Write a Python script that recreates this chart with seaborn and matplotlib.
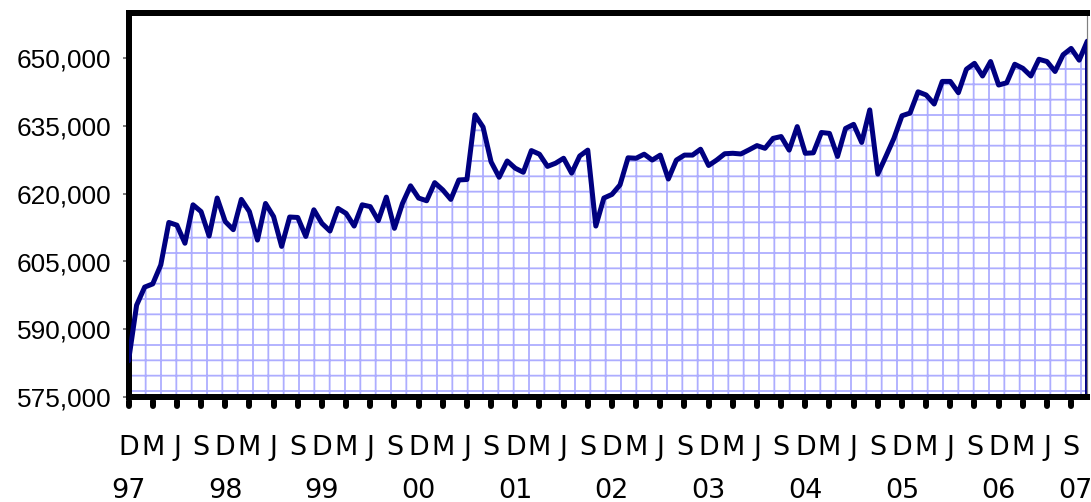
import numpy as np
import pandas as pd
import seaborn as sns
import matplotlib.pyplot as plt
import matplotlib.ticker as mticker

# monthly series, Dec 1997 .. Nov 2007
values = [583000, 595300, 599300, 600000, 604200, 613600, 613000, 609000, 617500, 616000,
          610600, 619000, 613800, 612000, 618700, 616000, 609700, 617800, 614900, 608300,
          614800, 614700, 610500, 616400, 613400, 611700, 616700, 615600, 612800, 617500,
          617100, 614000, 619200, 612300, 617800, 621700, 619000, 618400, 622400, 620800,
          618700, 623000, 623100, 637400, 634700, 627000, 623600, 627200, 625600, 624700,
          629500, 628700, 626000, 626700, 627800, 624500, 628300, 629600, 612800, 619000,
          619800, 621900, 627900, 627800, 628700, 627400, 628500, 623200, 627400, 628500,
          628500, 629800, 626200, 627400, 628800, 628900, 628750, 629650, 630600, 630000,
          632200, 632600, 629600, 634800, 628900, 629000, 633500, 633300, 628200, 634400,
          635300, 631300, 638500, 624300, 628200, 632200, 637200, 637800, 642500, 641800,
          639800, 644800, 644800, 642300, 647500, 648800, 646000, 649200, 644000, 644500,
          648600, 647700, 646000, 649700, 649200, 647000, 650700, 652100, 649500, 653700]
month = np.arange(len(values))
quarter_labels = ['D', 'M', 'J', 'S'] * 10
year_labels = ['97', '98', '99', '00', '01', '02', '03', '04', '05', '06', '07']
y_min, y_max = 575000, 660000

DPI = 92.4


def px(v):
    return v * 72 / DPI


sns.set_style('white')
plt.rcParams['font.family'] = ['DejaVu Sans']
plt.rcParams['text.color'] = 'black'
plt.rcParams['hatch.linewidth'] = px(1.8)

fig, ax = plt.subplots(figsize=(1091.3 / DPI, 502.3 / DPI), dpi=DPI)
fig.subplots_adjust(left=0.1178, right=0.9963, bottom=0.2092, top=0.9741)

df = pd.DataFrame({'month': month, 'value': values})
navy = '#000080'

# grid-pattern area under the line
ax.fill_between(df['month'], df['value'], y_min, facecolor='white',
                edgecolor='#ADADFF', hatch='+', linewidth=0, zorder=1)
sns.lineplot(data=df, x='month', y='value', ax=ax, color=navy,
             linewidth=px(5), zorder=3)
ax.vlines([month[0], month[-1]], y_min, [values[0], values[-1]],
          colors=navy, linewidth=px(5), zorder=2.2)

ax.set_xlim(month[0], month[-1])
ax.set_ylim(y_min, y_max)
ax.set_xlabel('')
ax.set_ylabel('')

ax.set_yticks(np.arange(y_min, 650001, 15000))
ax.yaxis.set_major_formatter(mticker.StrMethodFormatter('{x:,.0f}'))
ax.tick_params(axis='y', left=True, length=px(6), width=px(1.5),
               color='#555555', pad=px(11), labelsize=20.5, labelcolor='black')
for lab in ax.get_yticklabels():
    lab.set_fontfamily('Liberation Sans')

quarter_ticks = month[::3]
ax.set_xticks(quarter_ticks, quarter_labels)
ax.tick_params(axis='x', bottom=True, length=0, pad=px(38), labelsize=21,
               labelcolor='black')

# rounded quarterly tick marks
ax.vlines(quarter_ticks, -0.0104, -0.0234, transform=ax.get_xaxis_transform(),
          colors='black', linewidth=px(6), capstyle='round', clip_on=False)

year_pos = list(month[::12]) + [quarter_ticks[-1] + 0.5]
for x, lab in zip(year_pos, year_labels):
    ax.text(x, -0.263, lab, transform=ax.get_xaxis_transform(),
            ha='center', va='baseline', fontsize=21, color='black')

for side in ['left', 'top', 'bottom']:
    ax.spines[side].set_linewidth(px(6))
    ax.spines[side].set_color('black')
ax.spines['right'].set_linewidth(px(1.2))
ax.spines['right'].set_color('#808080')

fig.savefig('out.png', dpi=DPI)
